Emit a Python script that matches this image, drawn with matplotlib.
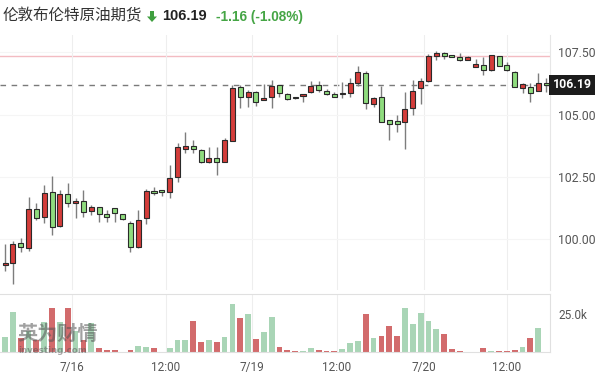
import numpy as np
import matplotlib.pyplot as plt
from matplotlib.patches import Polygon

TITLE = '伦敦布伦特原油期货'
LAST = 106.19
CHANGE = '-1.16 (-1.08%)'
PREV_CLOSE = 107.35

OPEN = [98.97, 99.04, 99.84, 99.66, 101.21, 100.91, 101.88, 100.53, 101.82, 101.44,
        101.54, 101.15, 101.28, 101.00, 101.24, 101.00, 100.67, 99.70, 100.84, 101.94,
        101.98, 101.91, 102.51, 103.62, 103.75, 103.58, 103.11, 103.27, 103.11, 103.94,
        106.12, 105.72, 105.90, 105.59, 105.72, 106.19, 105.83, 105.70, 105.75, 105.92,
        106.19, 105.95, 105.83, 105.82, 105.86, 106.26, 106.66, 105.43, 105.72, 104.78,
        104.74, 104.69, 105.25, 106.06, 106.35, 107.36, 107.46, 107.39, 107.32, 107.19,
        106.92, 106.99, 106.79, 107.35, 106.99, 106.72, 106.08, 106.12, 105.95, 106.25]
HIGH = [99.80, 99.94, 100.04, 101.71, 101.44, 102.18, 102.54, 101.98, 102.27, 101.64,
        101.98, 101.37, 101.31, 101.17, 101.26, 101.02, 100.73, 101.17, 102.00, 102.11,
        101.99, 102.98, 103.87, 104.32, 103.98, 103.62, 103.69, 103.69, 104.05, 106.19,
        106.19, 105.99, 105.96, 106.23, 106.39, 106.20, 105.85, 105.72, 105.83, 106.35,
        106.36, 106.02, 105.91, 106.30, 106.46, 106.96, 106.76, 105.72, 106.15, 104.80,
        104.98, 105.92, 106.39, 106.46, 107.42, 107.55, 107.50, 107.40, 107.46, 107.35,
        107.22, 107.32, 107.40, 107.36, 107.11, 106.73, 106.28, 106.28, 106.66, 106.46]
LOW = [98.72, 98.23, 99.50, 99.53, 100.77, 100.66, 100.17, 100.50, 101.28, 100.84,
       100.91, 100.97, 100.70, 100.69, 100.70, 100.79, 99.50, 99.64, 100.60, 101.78,
       101.74, 101.67, 102.31, 103.45, 103.45, 103.05, 103.05, 102.58, 103.10, 103.93,
       105.25, 105.32, 105.36, 105.58, 105.28, 105.70, 105.60, 105.62, 105.52, 105.88,
       105.90, 105.79, 105.70, 105.68, 105.72, 106.15, 105.23, 105.29, 104.72, 103.98,
       104.32, 103.64, 104.98, 105.41, 106.30, 107.19, 107.23, 107.31, 107.16, 107.17,
       106.90, 106.59, 106.76, 106.93, 106.76, 106.10, 105.88, 105.49, 105.94, 105.92]
CLOSE = [99.05, 99.80, 99.68, 101.21, 100.87, 101.84, 100.50, 101.80, 101.44, 101.55,
         101.11, 101.31, 101.03, 100.91, 101.07, 100.81, 99.68, 100.77, 101.94, 101.84,
         101.88, 102.47, 103.69, 103.75, 103.62, 103.11, 103.27, 103.09, 103.98, 106.08,
         105.72, 105.92, 105.49, 105.65, 106.16, 105.86, 105.63, 105.66, 105.82, 106.15,
         105.99, 105.83, 105.72, 105.88, 106.26, 106.70, 105.45, 105.68, 104.72, 104.62,
         104.62, 105.21, 105.95, 106.35, 107.36, 107.46, 107.36, 107.32, 107.19, 107.32,
         107.02, 106.79, 107.39, 106.95, 106.79, 106.12, 106.22, 105.86, 106.26, 106.19]
VOLUME = [9960, 26100, 9000, 14000, 7700, 20000, 28800, 19500, 28800, 14000,
          7700, 18800, 2200, 1100, 900, 0, 1100, 3800, 3300, 2200,
          0, 2200, 7700, 7700, 20400, 6600, 7700, 6600, 10000, 31400,
          22600, 24800, 8200, 12800, 22800, 2900, 1100, 700, 450, 2200,
          900, 450, 450, 1500, 5500, 7300, 25000, 8800, 10600, 17300,
          10600, 29200, 18100, 25900, 20600, 14800, 11500, 1500, 450, 0,
          0, 2200, 450, 450, 450, 1100, 2900, 8800, 15900, 0]

XTICK_POS = [8.55, 20.5, 31.5, 42.3, 53.4, 64.0]
XTICK_LABELS = ['7/16', '12:00', '7/19', '12:00', '7/20', '12:00']
YTICKS = [100.0, 102.5, 105.0, 107.5]
VOL_TICK = 25000

RED = '#d43d3a'
GREEN = '#8fdc7e'
VRED = '#d26b6c'
VGREEN = '#a9d5b6'
GRID = '#eeeeee'
TXT = '#555555'
NUM_FONT = ['Roboto', 'DejaVu Sans']

W, H = 600, 383


def fx(px):
    return px / W


def fy(py):
    return 1 - py / H


fig = plt.figure(figsize=(6.0, 3.83), dpi=100)
ax = fig.add_axes([0, fy(290), fx(550), (290 - 35) / H])
vax = fig.add_axes([0, fy(351.7), fx(550), (351.7 - 294) / H])

x = np.arange(len(OPEN))
o, hi, lo, c = (np.array(a) for a in (OPEN, HIGH, LOW, CLOSE))
up = c >= o

# price panel
ax.vlines(x, lo, hi, color='#7d7d7d', lw=1.0, zorder=2)
ax.bar(x, np.maximum(np.abs(c - o), 0.04), 0.64, bottom=np.minimum(o, c),
       color=np.where(up, RED, GREEN), edgecolor='#2a2a2a', lw=0.8, zorder=3)
ax.axhline(PREV_CLOSE, color='#f3bcc2', lw=1.0, zorder=1)
ax.axhline(LAST, color='#7a7a7a', lw=1.0, ls=(0, (4, 4)), zorder=1)

ax.set_xlim(-0.64, 69.5)
ax.set_ylim(97.97, 108.19)
ax.set_xticks(XTICK_POS)
ax.set_yticks(YTICKS)
ax.grid(axis='x', color=GRID, lw=0.8, zorder=0)
ax.grid(axis='y', color='#f5f5f5', lw=0.8, zorder=0)
ax.tick_params(axis='x', length=0, labelbottom=False)
ax.yaxis.tick_right()
ax.tick_params(axis='y', length=0, pad=6, labelsize=8.8, labelcolor=TXT)
ax.set_yticklabels([f'{v:.2f}' for v in YTICKS], family=NUM_FONT)
for s in ('top', 'left', 'bottom'):
    ax.spines[s].set_visible(False)
ax.spines['right'].set_color('#e6e6e6')

ax.text(1.005, LAST, f'{LAST:.2f}', transform=ax.get_yaxis_transform(),
        ha='left', va='center', fontsize=8.8, color='white', fontweight='bold',
        family=NUM_FONT,
        bbox=dict(boxstyle='square,pad=0.28', fc='#1c1c1c', ec='none'))

# volume panel
vax.bar(x, VOLUME, 0.74, color=np.where(up, VGREEN, VRED), zorder=2)
vax.set_xlim(-0.64, 69.5)
vax.set_ylim(0, 38270)
vax.set_xticks(XTICK_POS, XTICK_LABELS, family=NUM_FONT)
vax.set_yticks([VOL_TICK], [f'{VOL_TICK / 1000:.1f}k'], family=NUM_FONT)
vax.grid(axis='x', color=GRID, lw=0.8, zorder=0)
vax.yaxis.tick_right()
vax.tick_params(length=0, labelsize=8.5, labelcolor=TXT)
vax.tick_params(axis='x', pad=7)
vax.tick_params(axis='y', pad=6)
vax.spines['left'].set_visible(False)
for s in ('top', 'bottom', 'right'):
    vax.spines[s].set_color('#e0e0e0')

# watermark
fig.text(fx(17), fy(333), '英为财情', fontsize=14.5, fontweight='bold',
         family=['Noto Sans CJK SC', 'DejaVu Sans'], color='#555555',
         alpha=0.55, va='center')
fig.text(fx(18), fy(350.5), 'investing.com', fontsize=6.2, fontweight='bold',
         color='#555555', alpha=0.5, va='center')

# header
fig.text(fx(3), fy(16), TITLE, fontsize=11.2, color='#333333', va='center',
         family=['Noto Sans CJK SC', 'DejaVu Sans'])
arrow = [(150, 11), (154, 11), (154, 16.5), (157, 16.5), (152, 22),
         (147, 16.5), (150, 16.5)]
fig.patches.append(Polygon([(fx(a), fy(b)) for a, b in arrow], closed=True,
                           transform=fig.transFigure, fc='#3f9f3f', ec='none'))
fig.text(fx(162), fy(16.5), f'{LAST:.2f}', fontsize=10.5, fontweight='bold',
         color='#222222', va='center', family=['Liberation Sans', 'DejaVu Sans'])
fig.text(fx(216), fy(16.5), CHANGE, fontsize=9.8, fontweight='bold',
         color='#45a545', va='center', family=['Liberation Sans', 'DejaVu Sans'])

fig.savefig('out.png', dpi=100)
